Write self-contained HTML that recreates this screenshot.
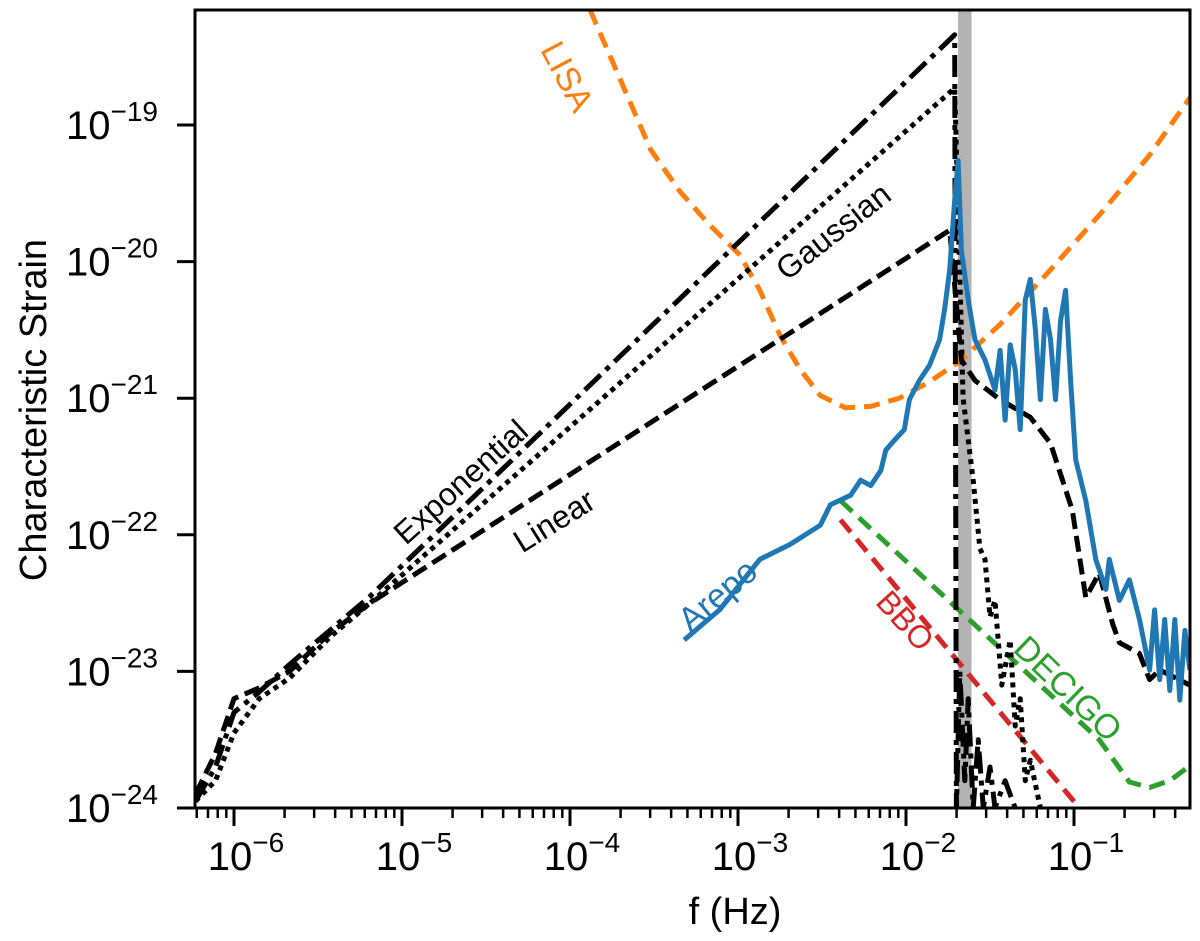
<!DOCTYPE html>
<html><head><meta charset="utf-8"><style>
html,body{margin:0;padding:0;background:#fff}
svg text{font-family:"Liberation Sans",sans-serif}
</style></head><body>
<svg id="chart" width="1200" height="936" viewBox="0 0 1200 936" xmlns="http://www.w3.org/2000/svg">
<defs><clipPath id="clip"><rect x="195" y="10" width="995" height="798"/></clipPath></defs>
<g id="plot" clip-path="url(#clip)"></g>
<g id="axes"></g>
<g id="labels"></g>
</svg>
<script>
const xTicks=[-6,-5,-4,-3,-2,-1];
const yTicks=[-24,-23,-22,-21,-20,-19];
const bandF=[-1.69,-1.61];
const linF=[-6.23,-6.11,-6.0,-5.85,-5.67,-5.43,-5.19,-1.74,-1.67,-1.59,-1.44,-1.26,-1.14,-1.01,-0.93,-0.85,-0.77,-0.73,-0.61,-0.55,-0.49,-0.31];
const linH=[-23.9,-23.6,-23.2,-23.12,-23.0,-22.72,-22.5,-19.77,-20.72,-20.87,-21.01,-21.14,-21.33,-21.82,-22.46,-22.28,-22.65,-22.79,-22.87,-23.06,-22.99,-23.1];
const expF=[-6.23,-6.11,-6.0,-5.85,-5.67,-5.43,-5.19,-1.71,-1.70,-1.68,-1.65,-1.63,-1.60,-1.57,-1.54,-1.50,-1.47,-1.41,-1.35];
const expH=[-23.95,-23.7,-23.3,-23.15,-22.95,-22.7,-22.45,-18.34,-24,-23.0,-23.8,-23.2,-24,-23.5,-24,-23.7,-24,-23.8,-24];
const gauF=[-6.23,-6.11,-6.0,-5.85,-5.67,-5.43,-5.19,-1.71,-1.66,-1.60,-1.56,-1.53,-1.50,-1.47,-1.43,-1.38,-1.35,-1.32,-1.29,-1.26,-1.2];
const gauH=[-23.95,-23.8,-23.45,-23.2,-23.05,-22.75,-22.5,-18.73,-21.0,-21.6,-22.1,-22.18,-22.6,-22.48,-23.1,-22.77,-23.4,-23.2,-23.8,-23.65,-24];
const arepoF=[-3.32,-3.11,-2.87,-2.69,-2.51,-2.45,-2.33,-2.27,-2.21,-2.15,-2.12,-2.07,-2.01,-1.98,-1.92,-1.86,-1.80,-1.77,-1.74,-1.71,-1.69,-1.67,-1.63,-1.59,-1.53,-1.47,-1.44,-1.41,-1.38,-1.35,-1.32,-1.29,-1.26,-1.23,-1.20,-1.17,-1.14,-1.11,-1.08,-1.05,-1.02,-0.99,-0.93,-0.87,-0.81,-0.79,-0.73,-0.67,-0.61,-0.55,-0.52,-0.49,-0.46,-0.43,-0.40,-0.37,-0.34,-0.31];
const arepoH=[-22.77,-22.55,-22.18,-22.07,-21.93,-21.78,-21.71,-21.60,-21.64,-21.53,-21.38,-21.31,-21.23,-21.01,-20.87,-20.76,-20.57,-20.35,-20.06,-19.55,-19.26,-19.92,-20.28,-20.57,-20.72,-20.94,-20.65,-21.16,-20.61,-20.79,-21.23,-20.28,-20.13,-20.50,-21.01,-20.35,-20.57,-21.01,-20.43,-20.21,-20.87,-21.45,-21.75,-22.18,-22.40,-22.18,-22.48,-22.33,-22.62,-22.99,-22.55,-23.06,-22.62,-23.14,-22.62,-23.21,-22.70,-22.99];
const lisaF=[-3.95,-3.88,-3.70,-3.52,-3.35,-3.17,-2.99,-2.87,-2.75,-2.63,-2.51,-2.36,-2.21,-2.04,-1.86,-1.68,-1.44,-1.14,-0.85,-0.55,-0.31];
const lisaH=[-17.8,-18.16,-18.67,-19.18,-19.48,-19.73,-19.95,-20.21,-20.54,-20.79,-20.98,-21.07,-21.06,-21.0,-20.88,-20.73,-20.46,-20.06,-19.66,-19.22,-18.80];
const bboF=[-2.39,-0.90];
const bboH=[-21.89,-24.1];
const decF=[-2.39,-0.85,-0.67,-0.55,-0.43,-0.31];
const decH=[-21.75,-23.5,-23.81,-23.85,-23.8,-23.69];

const X=v=>234+(v+6)*168;
const Y=v=>808-(v+24)*136.6;
const NS='http://www.w3.org/2000/svg';
function mk(tag,attrs,parent){const e=document.createElementNS(NS,tag);for(const k in attrs)e.setAttribute(k,attrs[k]);parent.appendChild(e);return e;}
const plot=document.getElementById('plot'),axes=document.getElementById('axes'),labels=document.getElementById('labels');
let band=mk('rect',{x:X(bandF[0]),y:0,width:X(bandF[1])-X(bandF[0]),height:936,fill:'#b3b3b3'},plot);


function line(F,H,color,dash,w,name){
  const d=F.map((f,i)=>(i?'L':'M')+X(f).toFixed(1)+','+Y(H[i]).toFixed(1)).join('');
  const p=mk('path',{d:d,fill:'none',stroke:color,'stroke-width':w,'stroke-dasharray':dash,'stroke-linejoin':'round'},plot);
  
  
}
line(lisaF,lisaH,'#ff7f0e','16 9',5,'lisa-curve');
line(bboF,bboH,'#d62728','16 9',5,'bbo-curve');
line(decF,decH,'#2ca02c','16 9',5,'decigo-curve');
line(expF,expH,'#000','22 7 5 7',5,'exponential-curve');
line(gauF,gauH,'#000','5 5',5,'gaussian-curve');
line(linF,linH,'#000','16 7',5,'linear-curve');
line(arepoF,arepoH,'#1f77b4','none',5,'arepo-curve');
let fr=mk('rect',{x:195,y:10,width:995,height:798,fill:'none',stroke:'#000','stroke-width':3},axes);


for(let d=-7;d<=-1;d++){for(let m=1;m<10;m++){const v=d+Math.log10(m);const x=X(v);if(x<195||x>1190)continue;
  const t=mk('line',{x1:x,x2:x,y1:808,y2:808+(m==1?18:10),stroke:'#000','stroke-width':m==1?3:2.5},axes);
  
  }}
xTicks.forEach(v=>{const t=mk('text',{x:X(v)+12,y:870,'font-size':40,'text-anchor':'middle'},axes);
  
  
  t.innerHTML='10<tspan dy="-18" font-size="28">−'+(-v)+'</tspan>';});
yTicks.forEach(v=>{const y=Y(v);const t=mk('line',{x1:177,x2:195,y1:y,y2:y,stroke:'#000','stroke-width':3},axes);
  
  
  const l=mk('text',{x:66,y:y+14,'font-size':40},axes);
  
  
  l.innerHTML='10<tspan dy="-18" font-size="28">−'+(-v)+'</tspan>';});
function lab(txt,x,y,rot,color,size,name){const t=mk('text',{x:x,y:y,'font-size':size,fill:color,'text-anchor':'middle',transform:'rotate('+rot+' '+x+' '+y+')'},labels);
  
  
  t.textContent=txt;}
lab('f (Hz)',735,924,0,'#000',38,'x-axis-title');
lab('Characteristic Strain',46,410,-90,'#000',38,'y-axis-title');
lab('Exponential',468,490,-42,'#000',32,'exponential-label');
lab('Gaussian',840,240,-38,'#000',32,'gaussian-label');
lab('Linear',560,530,-32,'#000',32,'linear-label');
lab('Arepo',725,604,-40,'#1f77b4',34,'arepo-label');
lab('BBO',897,628,48,'#d62728',32,'bbo-label');
lab('DECIGO',1060,697,44,'#2ca02c',34,'decigo-label');
lab('LISA',557,82,62,'#ff7f0e',34,'lisa-label');
</script>
</body></html>
